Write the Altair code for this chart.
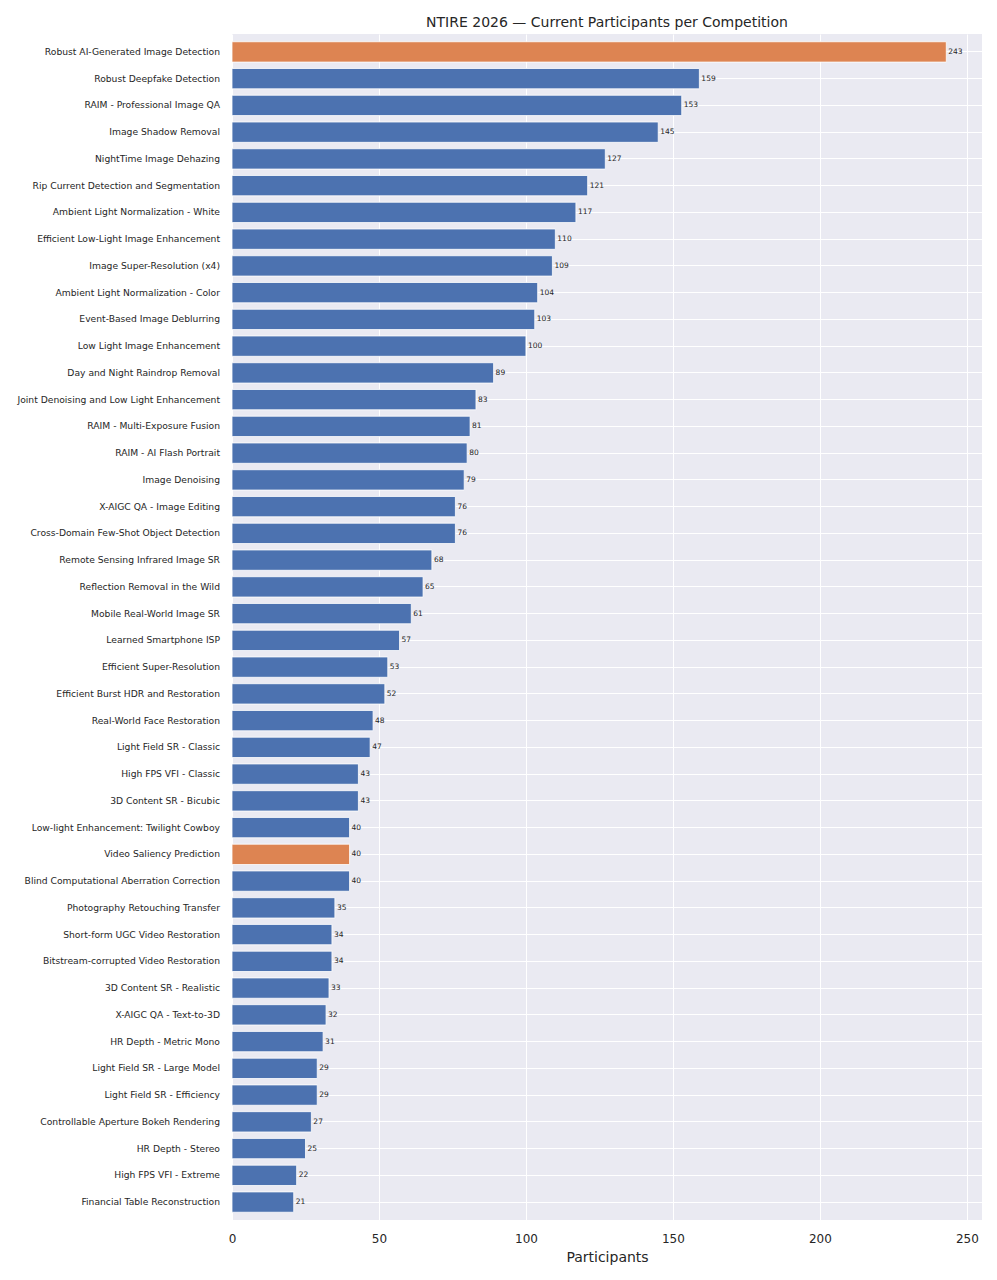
import altair as alt
import pandas as pd

competitions = [
    "Robust AI-Generated Image Detection",
    "Robust Deepfake Detection",
    "RAIM - Professional Image QA",
    "Image Shadow Removal",
    "NightTime Image Dehazing",
    "Rip Current Detection and Segmentation",
    "Ambient Light Normalization - White",
    "Efficient Low-Light Image Enhancement",
    "Image Super-Resolution (x4)",
    "Ambient Light Normalization - Color",
    "Event-Based Image Deblurring",
    "Low Light Image Enhancement",
    "Day and Night Raindrop Removal",
    "Joint Denoising and Low Light Enhancement",
    "RAIM - Multi-Exposure Fusion",
    "RAIM - AI Flash Portrait",
    "Image Denoising",
    "X-AIGC QA - Image Editing",
    "Cross-Domain Few-Shot Object Detection",
    "Remote Sensing Infrared Image SR",
    "Reflection Removal in the Wild",
    "Mobile Real-World Image SR",
    "Learned Smartphone ISP",
    "Efficient Super-Resolution",
    "Efficient Burst HDR and Restoration",
    "Real-World Face Restoration",
    "Light Field SR - Classic",
    "High FPS VFI - Classic",
    "3D Content SR - Bicubic",
    "Low-light Enhancement: Twilight Cowboy",
    "Video Saliency Prediction",
    "Blind Computational Aberration Correction",
    "Photography Retouching Transfer",
    "Short-form UGC Video Restoration",
    "Bitstream-corrupted Video Restoration",
    "3D Content SR - Realistic",
    "X-AIGC QA - Text-to-3D",
    "HR Depth - Metric Mono",
    "Light Field SR - Large Model",
    "Light Field SR - Efficiency",
    "Controllable Aperture Bokeh Rendering",
    "HR Depth - Stereo",
    "High FPS VFI - Extreme",
    "Financial Table Reconstruction",
]

participants = [243, 159, 153, 145, 127, 121, 117, 110, 109, 104, 103, 100, 89, 83,
                81, 80, 79, 76, 76, 68, 65, 61, 57, 53, 52, 48, 47, 43, 43, 40, 40,
                40, 35, 34, 34, 33, 32, 31, 29, 29, 27, 25, 22, 21]

highlighted = ["Robust AI-Generated Image Detection", "Video Saliency Prediction"]

x_ticks = [0, 50, 100, 150, 200, 250]

df = pd.DataFrame({
    "Competition": competitions,
    "Participants": participants,
})
df["group"] = ["highlight" if c in highlighted else "normal" for c in competitions]

FONT = "DejaVu Sans"
TEXT = "#262626"

y_enc = alt.Y(
    "Competition:N",
    sort=None,
    scale=alt.Scale(paddingInner=0.24, paddingOuter=0.29),
    axis=alt.Axis(
        title=None,
        labelFontSize=9.2,
        labelColor=TEXT,
        labelPadding=12.5,
        labelLimit=400,
        minExtent=224,
        maxExtent=224,
        bandPosition=0.5,
        grid=True,
        gridColor="white",
        gridWidth=1,
        domain=False,
        ticks=False,
    ),
)

x_enc = alt.X(
    "Participants:Q",
    scale=alt.Scale(domain=[0, 255.15], nice=False, zero=True),
    axis=alt.Axis(
        title="Participants",
        titleFontSize=14,
        titleFontWeight="normal",
        titleColor=TEXT,
        titlePadding=6,
        labelFontSize=12,
        labelColor=TEXT,
        labelPadding=13,
        labelFlush=False,
        values=x_ticks,
        grid=True,
        gridColor="white",
        gridWidth=1,
        domain=False,
        ticks=False,
    ),
)

bars = alt.Chart(df).mark_bar(stroke="white", strokeWidth=0.8).encode(
    x=x_enc,
    y=y_enc,
    color=alt.Color(
        "group:N",
        scale=alt.Scale(domain=["normal", "highlight"], range=["#4C72B0", "#DD8452"]),
        legend=None,
    ),
)

labels = alt.Chart(df).mark_text(
    align="left", baseline="middle", dx=2, fontSize=7.5, color=TEXT, font=FONT
).encode(
    x="Participants:Q",
    y=alt.Y("Competition:N", sort=None),
    text="Participants:Q",
)

chart = (
    alt.layer(bars, labels)
    .properties(
        width=750,
        height=1186,
        padding={"left": 0, "top": 8, "right": 5, "bottom": 5},
        title=alt.TitleParams(
            "NTIRE 2026 — Current Participants per Competition",
            fontSize=14,
            fontWeight="normal",
            color=TEXT,
            font=FONT,
            anchor="middle",
            frame="group",
            offset=4,
        ),
    )
    .configure(font=FONT)
    .configure_view(fill="#EAEAF2", stroke=None)
)

chart.save("out.html", embed_options={"renderer": "svg", "actions": False})
